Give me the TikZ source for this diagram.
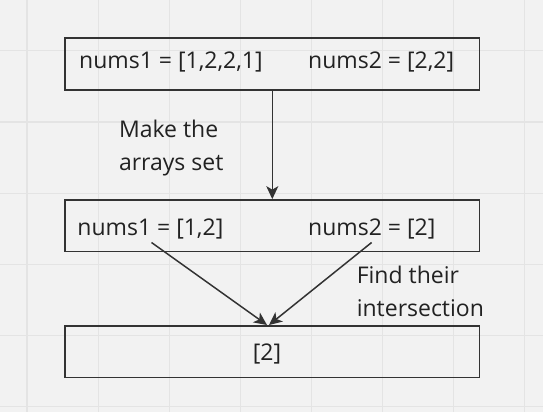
\documentclass[tikz,border=0pt]{standalone}
\usepackage{fontspec}
\setmainfont{Open Sans}
\usetikzlibrary{arrows.meta}
\definecolor{bgc}{HTML}{F2F2F2}
\definecolor{gridc}{HTML}{E4E4E4}
\definecolor{linec}{HTML}{333333}
\definecolor{textc}{HTML}{222222}
\begin{document}
\begin{tikzpicture}[x=1pt,y=-1pt,
  box/.style={draw=linec,line width=1.8pt,minimum width=414.5pt,minimum height=51.5pt,inner sep=0pt},
  txt/.style={text=textc,inner sep=0pt,font=\fontsize{23}{33}\selectfont},
  lbl/.style={txt,align=left},
  arr/.style={draw=linec,line width=1.5pt,-{Stealth[length=13pt,width=12pt,inset=3.5pt]}}]
\useasboundingbox (0,0) rectangle (543,412);
\fill[bgc] (0,0) rectangle (543,412);
\foreach \i in {0,...,7} {\draw[gridc,line width=1.2pt] ({27+71.1*\i},0) -- ({27+71.1*\i},412);}
\foreach \j in {0,...,5} {\draw[gridc,line width=1.2pt] (0,{50.8+71.2*\j}) -- (543,{50.8+71.2*\j});}
% boxes
\node[box] (top) at (272.3,64) {};
\node[box] (mid) at (272.3,225.8) {};
\node[box] (bot) at (272.3,351.7) {};
% texts
\node[txt,anchor=base west] (t1) at (79,68.3) {nums1 = [1,2,2,1]};
\node[txt,anchor=base west] (t2) at (308,68.3) {nums2 = [2,2]};
\node[txt,anchor=base west] (m1) at (77.2,235.5) {nums1 = [1,2]};
\node[txt,anchor=base west] (m2) at (308,235.5) {nums2 = [2]};
\node[txt,anchor=base] (b1) at (267,360) {[2]};
\node[lbl,anchor=base west] (l1) at (118.8,170) {Make the\\arrays set};
\node[lbl,anchor=base west] (l2) at (356.6,316.7) {Find their\\intersection};
% connectors
\coordinate (a1) at (272.3,0);
\coordinate (s1) at (151.5,242.5);
\coordinate (s2) at (371.6,242.5);
\coordinate (e1) at (267,325);
\coordinate (e2) at (269,325);
\draw[arr] (top.south -| a1) -- (mid.north -| a1);
\draw[arr] (s1) -- (e1);
\draw[arr] (s2) -- (e2);
\end{tikzpicture}
\end{document}
